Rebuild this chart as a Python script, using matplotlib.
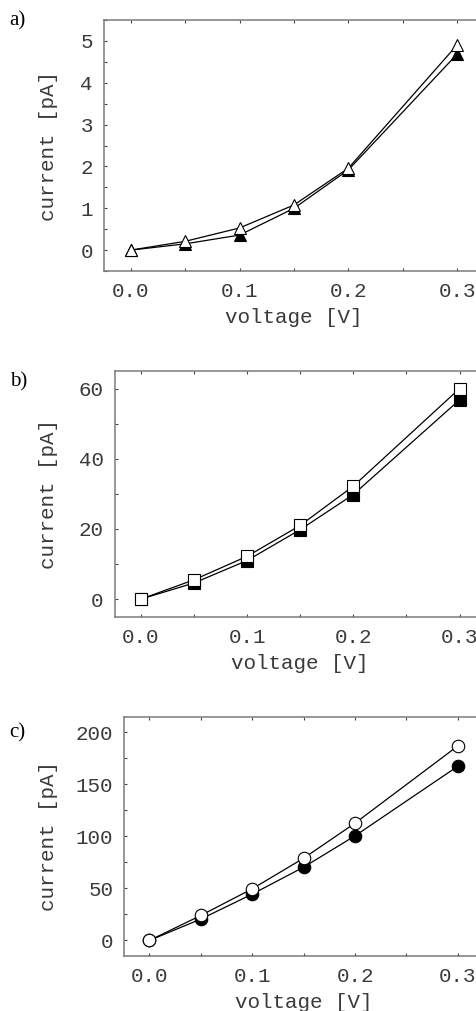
import numpy as np
import matplotlib.pyplot as plt
from matplotlib.ticker import MultipleLocator, FormatStrFormatter

voltage = [0.0, 0.05, 0.1, 0.15, 0.2, 0.3]

# a) triangles
a_filled = [0.0, 0.15, 0.36, 1.0, 1.92, 4.69]
a_open = [0.0, 0.21, 0.53, 1.08, 1.96, 4.91]
# b) squares
b_filled = [0.0, 4.6, 11.0, 19.8, 29.8, 56.8]
b_open = [0.0, 5.5, 12.2, 21.0, 32.2, 60.0]
# c) circles
c_filled = [0.0, 20.5, 44.5, 70.4, 100.5, 167.4]
c_open = [0.0, 24.0, 49.6, 79.0, 112.7, 186.9]

panels = [
    ("a)", a_filled, a_open, "^", (-0.5, 5.5), 1, 0.5,
     [0.218, 0.7319, 0.7967, 0.2483], 0.979),
    ("b)", b_filled, b_open, "s", (-5, 65), 20, 10,
     [0.2405, 0.39, 0.7775, 0.243], 0.622),
    ("c)", c_filled, c_open, "o", (-15, 215), 50, 25,
     [0.2606, 0.0544, 0.752, 0.2367], 0.275),
]

mono = "Liberation Mono"
frame_col = "#7a7a7a"
text_col = "#3a3a3a"
fs = 15

fig = plt.figure(figsize=(4.77, 10.11), dpi=100)

for label, filled, opened, mk, ylim, major, minor, rect, label_y in panels:
    ax = fig.add_axes(rect)
    ax.plot(voltage, filled, color="black", lw=0.9, marker=mk, ms=9,
            mfc="black", mec="black", mew=0.8, zorder=3)
    ax.plot(voltage, opened, color="black", lw=0.9, marker=mk, ms=9,
            mfc="white", mec="black", mew=0.8, zorder=4)
    ax.set_xlim(-0.0245, 0.3245)
    ax.set_ylim(*ylim)
    ax.xaxis.set_major_locator(MultipleLocator(0.1))
    ax.xaxis.set_minor_locator(MultipleLocator(0.05))
    ax.xaxis.set_major_formatter(FormatStrFormatter("%.1f"))
    ax.yaxis.set_major_locator(MultipleLocator(major))
    ax.yaxis.set_minor_locator(MultipleLocator(minor))
    ax.tick_params(which="both", direction="in", length=2.5, width=0.8,
                   color="#444444", top=True, right=True)
    ax.tick_params(which="major", labelsize=fs, labelcolor=text_col, pad=8)
    for t in ax.get_xticklabels() + ax.get_yticklabels():
        t.set_fontfamily(mono)
    for s in ax.spines.values():
        s.set_color(frame_col)
        s.set_linewidth(1.1)
    ax.set_xlabel("voltage [V]", fontsize=fs, family=mono, color=text_col,
                  labelpad=5)
    ax.set_ylabel("current [pA]", fontsize=fs, family=mono, color=text_col)
    w_px = rect[2] * 477
    ax.yaxis.set_label_coords((58 - rect[0] * 477) / w_px, 0.5)
    fig.text(0.02, label_y, label, fontsize=15, family="Liberation Serif",
             ha="left", va="center")

fig.savefig("out.png", dpi=100)
